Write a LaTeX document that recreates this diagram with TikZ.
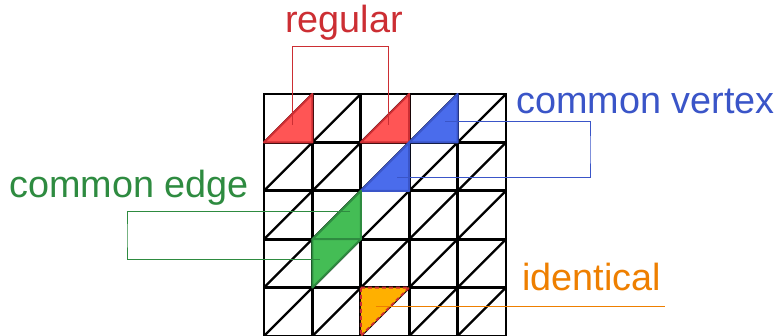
\documentclass[tikz,border=0pt]{standalone}
\usepackage{fontspec}
\setmainfont{Liberation Sans}
\definecolor{regfill}{HTML}{FF5555}
\definecolor{regline}{HTML}{CC2E33}
\definecolor{vtxfill}{HTML}{4A6CEC}
\definecolor{vtxline}{HTML}{3A55C8}
\definecolor{edgfill}{HTML}{44BD55}
\definecolor{edgline}{HTML}{2E8B40}
\definecolor{idfill}{HTML}{FFB000}
\definecolor{idtext}{HTML}{EE7F00}
\begin{document}
\begin{tikzpicture}[x=1pt,y=-1pt,
  gridline/.style={line width=2.8pt,black,line cap=rect},
  diagline/.style={line width=2.3pt,black},
  tri/.style={line width=2pt,line join=round},
  lead/.style={line width=1pt},
  lbl/.style={font=\fontsize{37.8}{40}\selectfont,inner sep=0pt}]
\useasboundingbox (0,0) rectangle (779,336);

% triangulated 5x5 mesh, cell size 48.4
\begin{scope}[shift={(264,94)},x=48.4pt,y=-48.4pt]
  \foreach \k in {0,...,5}{
    \draw[gridline] (\k,0) -- (\k,5);
    \draw[gridline] (0,\k) -- (5,\k);
  }
  \foreach \i in {0,...,4}{
    \foreach \j in {0,...,4}{
      \draw[diagline] (\i,\j+1) -- (\i+1,\j);
    }
  }
  % regular pair
  \draw[tri,fill=regfill,draw=regline] (0,1) -- (1,1) -- (1,0) -- cycle;
  \draw[tri,fill=regfill,draw=regline] (2,1) -- (3,1) -- (3,0) -- cycle;
  % common vertex pair
  \draw[tri,fill=vtxfill,draw=vtxline] (3,1) -- (4,1) -- (4,0) -- cycle;
  \draw[tri,fill=vtxfill,draw=vtxline] (2,2) -- (3,2) -- (3,1) -- cycle;
  % common edge pair
  \draw[tri,fill=edgfill,draw=edgline] (1,3) -- (2,3) -- (2,2) -- cycle;
  \draw[tri,fill=edgfill,draw=edgline] (1,4) -- (1,3) -- (2,3) -- cycle;
  % identical
  \draw[tri,fill=idfill,draw=regline,dash pattern=on 4pt off 3pt]
    (2,4) -- (3,4) -- (2,5) -- cycle;
\end{scope}

% labels
\node[lbl,text=regline,anchor=base] (regular) at (344,32.3) {regular};
\node[lbl,text=vtxline,anchor=base west] (vertex) at (516,113.3) {common vertex};
\node[lbl,text=edgline,anchor=base west] (edge) at (9.3,197.3) {common edge};
\node[lbl,text=idtext,anchor=base west] (ident) at (522.3,290.7) {identical};

% leader lines
\coordinate (rA) at (292,125);
\coordinate (rB) at (388,125);
\coordinate (rT) at (340,46.7);
\draw[lead,regline] (rA) -- (rA |- rT) -- (rB |- rT) -- (rB);

\coordinate (bA) at (445,122);
\coordinate (bB) at (397,178);
\coordinate (bR) at (590,150);
\draw[lead,vtxline] (bA) -| (bR) |- (bB);

\coordinate (gA) at (350,212);
\coordinate (gB) at (320,260);
\coordinate (gL) at (127,236);
\draw[lead,edgline] (gA) -| (gL) |- (gB);

\coordinate (oA) at (376,306.5);
\coordinate (oB) at (665,306.5);
\draw[lead,idtext] (oA) -- (oB);
\end{tikzpicture}
\end{document}
